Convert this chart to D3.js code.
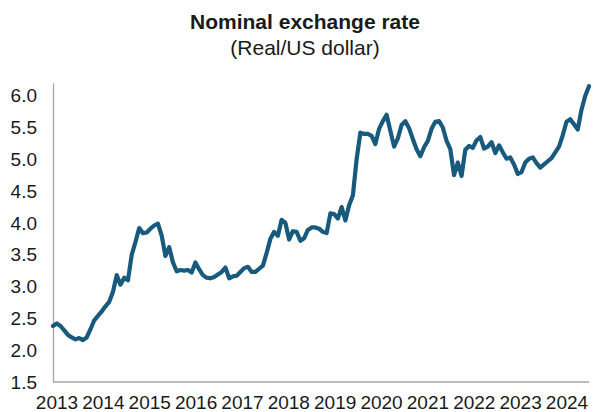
<!DOCTYPE html>
<html>
<head>
<meta charset="utf-8">
<script src="https://cdn.jsdelivr.net/npm/d3@7"></script>
<style>
  html, body { margin: 0; padding: 0; background: #fff; }
  svg { display: block; font-family: "Liberation Sans", Arial, sans-serif; }
</style>
</head>
<body>
<svg id="chart"></svg>
<script>
// ── data ──────────────────────────────────────────────────
const title = "Nominal exchange rate";
const subtitle = "(Real/US dollar)";

const years = ["2013","2014","2015","2016","2017","2018","2019","2020","2021","2022","2023","2024"];
const yTicks = [1.5, 2.0, 2.5, 3.0, 3.5, 4.0, 4.5, 5.0, 5.5, 6.0];

// monthly BRL per USD
const rate = [
  2.38, 2.42, 2.38, 2.31, 2.24, 2.20, 2.17, 2.19, 2.16, 2.20, 2.33, 2.47,
  2.54, 2.61, 2.69, 2.76, 2.92, 3.18, 3.03, 3.14, 3.10, 3.50, 3.70, 3.92,
  3.84, 3.85, 3.91, 3.96, 3.99, 3.80, 3.48, 3.62, 3.38, 3.24, 3.26, 3.25,
  3.26, 3.22, 3.38, 3.27, 3.18, 3.14, 3.13, 3.15, 3.19, 3.23, 3.30, 3.13,
  3.16, 3.17, 3.23, 3.29, 3.31, 3.23, 3.23, 3.28, 3.33, 3.53, 3.75, 3.86,
  3.80, 4.05, 4.00, 3.74, 3.87, 3.86, 3.72, 3.76, 3.89, 3.93, 3.93, 3.91,
  3.86, 3.84, 4.15, 4.14, 4.07, 4.25, 4.04, 4.28, 4.43, 5.00, 5.42, 5.40,
  5.40, 5.37, 5.24, 5.48, 5.60, 5.70, 5.45, 5.20, 5.33, 5.54, 5.60, 5.49,
  5.32, 5.16, 5.05, 5.19, 5.29, 5.48, 5.59, 5.60, 5.50, 5.29, 5.16, 4.75,
  4.95, 4.74, 5.15, 5.21, 5.18, 5.30, 5.35, 5.17, 5.20, 5.27, 5.10, 5.22,
  5.11, 5.01, 5.03, 4.92, 4.77, 4.80, 4.95, 5.01, 5.03, 4.94, 4.87, 4.92,
  4.97, 5.02, 5.11, 5.20, 5.38, 5.59, 5.63, 5.55, 5.47, 5.78, 6.00, 6.15
];

// ── layout ────────────────────────────────────────────────
const WIDTH = 610, HEIGHT = 412;
const M = { left: 53, right: 589, top: 83, bottom: 382 };
const LINE_COLOR = "#175a7e", AXIS_COLOR = "#a6a6a6", TEXT_COLOR = "#1a1a1a";

const svg = d3.select("#chart").attr("width", WIDTH).attr("height", HEIGHT);

const x = d3.scaleLinear().domain([0, rate.length - 1]).range([M.left, M.right]);
const y = d3.scaleLinear().domain([1.5, 6.2]).range([M.bottom, M.top]);
// year labels sit evenly under the plot
const xLab = d3.scalePoint().domain(years).range([57, 567]);

// titles
svg.append("text")
  .attr("x", 305).attr("y", 29)
  .attr("text-anchor", "middle")
  .attr("font-size", 21).attr("font-weight", "bold")
  .attr("fill", TEXT_COLOR)
  .text(title);

svg.append("text")
  .attr("x", 305).attr("y", 55)
  .attr("text-anchor", "middle")
  .attr("font-size", 21)
  .attr("fill", TEXT_COLOR)
  .text(subtitle);

// y axis
const yAxis = svg.append("g")
  .attr("transform", `translate(${M.left},0)`)
  .call(d3.axisLeft(y).tickValues(yTicks).tickFormat(d3.format(".1f")).tickSize(0).tickPadding(16));
yAxis.select(".domain").attr("stroke", AXIS_COLOR).attr("stroke-width", 1.3);
yAxis.selectAll("text").attr("font-size", 19).attr("fill", TEXT_COLOR);
yAxis.attr("font-family", null).attr("font-size", null);

// x axis line
svg.append("line")
  .attr("x1", M.left).attr("x2", M.right)
  .attr("y1", M.bottom).attr("y2", M.bottom)
  .attr("stroke", AXIS_COLOR).attr("stroke-width", 1.3);

// year labels
svg.append("g").selectAll("text")
  .data(years)
  .join("text")
  .attr("x", d => xLab(d))
  .attr("y", 409)
  .attr("text-anchor", "middle")
  .attr("font-size", 19)
  .attr("fill", TEXT_COLOR)
  .text(d => d);

// series line
svg.append("path")
  .datum(rate)
  .attr("fill", "none")
  .attr("stroke", LINE_COLOR)
  .attr("stroke-width", 4.2)
  .attr("stroke-linejoin", "round")
  .attr("stroke-linecap", "round")
  .attr("d", d3.line().x((d, i) => x(i)).y(d => y(d)));
</script>
</body>
</html>
